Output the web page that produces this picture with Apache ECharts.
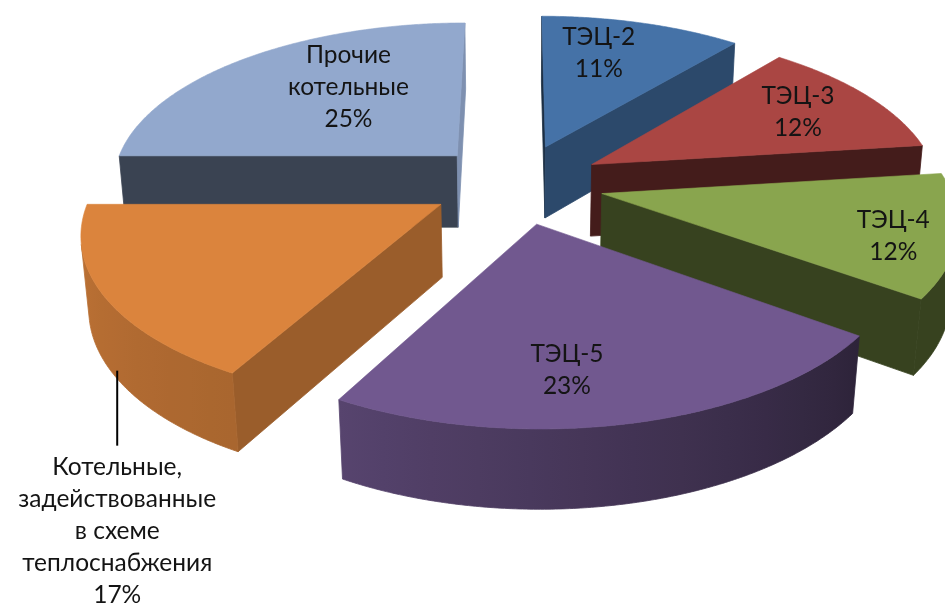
<!DOCTYPE html>
<html>
<head>
<meta charset="utf-8">
<script src="https://cdn.jsdelivr.net/npm/echarts@6/dist/echarts.min.js"></script>
<style>
  html, body { margin: 0; padding: 0; background: #ffffff; }
  #chart { width: 945px; height: 605px; }
</style>
</head>
<body>
<div id="chart"></div>
<script>
// Heat supply shares by source
const categories = [
  'ТЭЦ-2',
  'ТЭЦ-3',
  'ТЭЦ-4',
  'ТЭЦ-5',
  'Котельные,\nзадействованные\nв схеме\nтеплоснабжения',
  'Прочие\nкотельные'
];
const values = [11, 12, 12, 23, 17, 25];
const colors = ['#4572A7', '#AA4643', '#89A54E', '#71588F', '#DB843D', '#92A8CD'];

// Label anchor inside each slice: [radius fraction, angle shift in degrees]
const labelAnchor = [[0.715, -4.9], [0.74, 0], [0.83, 3.1], [0.75, 7.4], [1, -2.4], [0.60, 8.5]];
const labelOutside = [false, false, false, false, true, false];

// Camera / perspective settings for the tilted pie (unit radius)
const VIEW = {
  cx: 517, cy: 183.5,   // screen position of the pie centre (top face)
  k: 347,               // horizontal scale
  m: 160.5,             // vertical scale of the pie plane
  p: 0.15,              // perspective strength
  p2: 0.08,             // perspective strength for wall height
  q: 0.0176,            // depth added by wall height
  wall: 72.3,           // wall height in pixels
  explode: 0.25         // radial explosion distance
};

const total = values.reduce((a, b) => a + b, 0);
const startDeg = [];
(function () {
  let acc = 0;
  values.forEach(v => { startDeg.push(acc / total * 360); acc += v; });
})();

const rad = d => d * Math.PI / 180;

function project(X, Z, yf) {
  const d = 1 + VIEW.p * Z + VIEW.q * yf;
  return [
    VIEW.cx + VIEW.k * X / d,
    VIEW.cy - VIEW.m * Z / (1 + VIEW.p * Z) + VIEW.wall * yf / (1 + VIEW.p2 * Z)
  ];
}

function sliceOffset(i) {
  const mid = startDeg[i] + values[i] / total * 180;
  return [VIEW.explode * Math.sin(rad(mid)), VIEW.explode * Math.cos(rad(mid))];
}

function shade(hex, f) {
  const n = parseInt(hex.slice(1), 16);
  const r = Math.round(((n >> 16) & 255) * f);
  const g = Math.round(((n >> 8) & 255) * f);
  const b = Math.round((n & 255) * f);
  return 'rgb(' + r + ',' + g + ',' + b + ')';
}

// Lighting on the curved outer wall, by angle
function rimLight(deg) {
  const pts = [[0, 0.4], [126, 0.4], [208.8, 0.77], [270, 0.88], [360, 0.88]];
  deg = ((deg % 360) + 360) % 360;
  for (let j = 0; j < pts.length - 1; j++) {
    if (deg >= pts[j][0] && deg <= pts[j + 1][0]) {
      const t = (deg - pts[j][0]) / (pts[j + 1][0] - pts[j][0]);
      return pts[j][1] + t * (pts[j + 1][1] - pts[j][1]);
    }
  }
  return 0.4;
}
// Lighting on flat radial walls, by facing direction
function sideLight(normalDeg) {
  const d = ((normalDeg % 360) + 360) % 360;
  if (d < 100) return 0.86;
  return Math.max(0.4, Math.min(0.75, 0.4 + (172 - d) * 0.0057));
}

const cross = (t, w) => t[0] * w[1] - t[1] * w[0];

// draw order: far slices first
const order = values.map((v, i) => i).sort((a, b) => sliceOffset(b)[1] - sliceOffset(a)[1]);
const rank = [];
order.forEach((idx, r) => { rank[idx] = r; });

const FONT = '24.5px Lato, "Open Sans", sans-serif';

function renderSlice(params, api) {
  const i = params.dataIndex;
  const value = api.value(1);
  const a = startDeg[i];
  const b = a + value / total * 360;
  const o = sliceOffset(i);
  const base = colors[i];
  const P = (deg, r, yf) => project(o[0] + r * Math.sin(rad(deg)), o[1] + r * Math.cos(rad(deg)), yf);

  const apexT = project(o[0], o[1], 0);
  const apexB = project(o[0], o[1], 1);
  const steps = Math.max(8, Math.ceil((b - a) / 0.5));
  const degs = [], rimT = [], rimB = [];
  for (let s = 0; s <= steps; s++) {
    const d = a + (b - a) * s / steps;
    degs.push(d);
    rimT.push(P(d, 1, 0));
    rimB.push(P(d, 1, 1));
  }
  const z0 = rank[i] * 10;
  const children = [];
  const down = [apexB[0] - apexT[0], apexB[1] - apexT[1]];

  // radial wall at the start edge
  const tStart = [rimT[0][0] - apexT[0], rimT[0][1] - apexT[1]];
  if (cross(tStart, down) < 0) {
    const c = shade(base, sideLight(a - 90));
    children.push({
      type: 'polygon', z2: z0 + 1,
      shape: { points: [apexT, rimT[0], rimB[0], apexB] },
      style: { fill: c, stroke: c, lineWidth: 0.8 }
    });
  }
  // radial wall at the end edge
  const tEnd = [rimT[steps][0] - apexT[0], rimT[steps][1] - apexT[1]];
  if (cross(tEnd, down) > 0) {
    const c = shade(base, sideLight(b + 90));
    children.push({
      type: 'polygon', z2: z0 + 1,
      shape: { points: [apexT, rimT[steps], rimB[steps], apexB] },
      style: { fill: c, stroke: c, lineWidth: 0.8 }
    });
  }

  // curved outer wall: keep the runs that face the viewer
  const runs = [];
  let cur = null;
  for (let s = 0; s < steps; s++) {
    const t = [rimT[s + 1][0] - rimT[s][0], rimT[s + 1][1] - rimT[s][1]];
    const w = [rimB[s][0] - rimT[s][0], rimB[s][1] - rimT[s][1]];
    if (cross(t, w) < 0) {
      if (!cur) { cur = [s, s + 1]; runs.push(cur); } else { cur[1] = s + 1; }
    } else {
      cur = null;
    }
  }
  runs.forEach(run => {
    const pts = [];
    for (let s = run[0]; s <= run[1]; s++) pts.push(rimT[s]);
    for (let s = run[1]; s >= run[0]; s--) pts.push(rimB[s]);
    let xmin = Infinity, xmax = -Infinity;
    for (let s = run[0]; s <= run[1]; s++) { xmin = Math.min(xmin, rimT[s][0]); xmax = Math.max(xmax, rimT[s][0]); }
    const span = Math.max(1, xmax - xmin);
    const stops = [];
    const n = 12;
    for (let j = 0; j <= n; j++) {
      const s = Math.round(run[0] + (run[1] - run[0]) * j / n);
      stops.push({ offset: Math.min(1, Math.max(0, (rimT[s][0] - xmin) / span)), color: shade(base, rimLight(degs[s])) });
    }
    stops.sort((u, v) => u.offset - v.offset);
    const grad = new echarts.graphic.LinearGradient(0, 0, 0, 0, stops, true);
    grad.x = xmin; grad.y = 0; grad.x2 = xmax; grad.y2 = 0;
    children.push({
      type: 'polygon', z2: z0 + 1,
      shape: { points: pts },
      style: { fill: grad, stroke: grad, lineWidth: 0.8 }
    });
  });

  // top face
  children.push({
    type: 'polygon', z2: z0 + 2,
    shape: { points: [apexT].concat(rimT) },
    style: { fill: base, stroke: base, lineWidth: 0.6 }
  });

  // data label
  const pct = Math.round(value / total * 100) + '%';
  const text = categories[i] + '\n' + pct;
  const la = labelAnchor[i];
  const mid = (a + b) / 2 + la[1];
  if (labelOutside[i]) {
    const p0 = P(mid, 1, 0.88);
    const yEnd = p0[1] + 75;
    children.push({
      type: 'line', z2: 100,
      shape: { x1: p0[0], y1: p0[1], x2: p0[0], y2: yEnd },
      style: { stroke: '#000000', lineWidth: 2 }
    });
    children.push({
      type: 'text', z2: 101, x: p0[0], y: yEnd + 5,
      style: { text: text, fill: '#141414', font: FONT, align: 'center', verticalAlign: 'top', lineHeight: 32 }
    });
  } else {
    const pt = P(mid, la[0], 0);
    children.push({
      type: 'text', z2: 101, x: pt[0], y: pt[1],
      style: { text: text, fill: '#141414', font: FONT, align: 'center', verticalAlign: 'middle', lineHeight: 32 }
    });
  }

  return { type: 'group', children: children };
}

const chart = echarts.init(document.getElementById('chart'), null, { renderer: 'canvas' });
chart.setOption({
  backgroundColor: '#ffffff',
  animation: false,
  series: [{
    type: 'custom',
    coordinateSystem: 'none',
    silent: true,
    renderItem: renderSlice,
    data: values.map((v, i) => [i, v])
  }]
});
</script>
</body>
</html>
